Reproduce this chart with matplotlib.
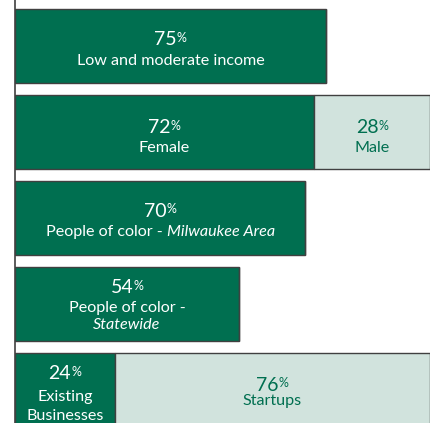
import matplotlib
matplotlib.use("Agg")
import matplotlib.pyplot as plt

# ---- data ----
categories = ["Low and moderate income", "Female", "People of color - Milwaukee Area",
              "People of color - Statewide", "Existing Businesses"]
primary_values = [75, 72, 70, 54, 24]
# label lines; each line is a list of (text, italic?)
primary_lines = [
    [[("Low and moderate income", False)]],
    [[("Female", False)]],
    [[("People of color - ", False), ("Milwaukee Area", True)]],
    [[("People of color -", False)], [("Statewide", True)]],
    [[("Existing", False)], [("Businesses", False)]],
]
secondary_values = [0, 28, 0, 0, 76]
secondary_lines = [None, [[("Male", False)]], None, None, [[("Startups", False)]]]

# ---- style / layout ----
DARK = "#006F50"
LIGHT = "#D1E3DD"
EDGE = "#404040"
FONT = "Lato"
NUM_FS = 14
PCT_FS = 9
LAB_FS = 11.6
# baseline offsets (pixels, downward from bar centre) of each text row
primary_rows = [[-1, 18.5], [1.5, 20], [-1, 18.5], [-10.5, 8.5, 25.5], [-10.5, 11.5, 30]]
secondary_rows = [None, [1.5, 20], None, None, [1, 15]]

fig = plt.figure(figsize=(4.31, 4.23), dpi=100)
ax = fig.add_axes([15 / 431, 0, (430 - 15) / 431, 1])
ax.set_xlim(0, 100)
ax.set_ylim(4.384, -0.535)
for s in ["top", "right", "bottom"]:
    ax.spines[s].set_visible(False)
ax.spines["left"].set_color(EDGE)
ax.spines["left"].set_linewidth(1.2)
ax.set_xticks([])
ax.set_yticks([])

ys = list(range(len(primary_values)))
H = 0.86
ax.barh(ys, primary_values, height=H, color=DARK, edgecolor=EDGE, linewidth=1)
ax.barh(ys, secondary_values, left=primary_values, height=H, color=LIGHT,
        edgecolor=EDGE, linewidth=1)

renderer = fig.canvas.get_renderer()


def seg_width(text, size, italic):
    t = fig.text(0, 0, text, fontsize=size, family=FONT,
                 style="italic" if italic else "normal")
    w = t.get_window_extent(renderer).width
    t.remove()
    return w


def put_row(x, y, dy, segs, color):
    # segs: list of (text, size, italic, raise_px)
    widths = [seg_width(t, s, it) for t, s, it, r in segs]
    start = -sum(widths) / 2
    for (t, s, it, r), w in zip(segs, widths):
        ax.annotate(t, xy=(x, y), xytext=(start, -dy + r), textcoords="offset pixels",
                    ha="left", va="baseline", fontsize=s, family=FONT, color=color,
                    style="italic" if it else "normal", annotation_clip=False)
        start += w


def put_block(x, y, value, lines, rows, color):
    put_row(x, y, rows[0], [(f"{value}", NUM_FS, False, 0),
                            ("%", PCT_FS, False, 3.5)], color)
    for line, dy in zip(lines, rows[1:]):
        put_row(x, y, dy, [(t, LAB_FS, it, 0) for t, it in line], color)


for i, v in enumerate(primary_values):
    put_block(v / 2, i, v, primary_lines[i], primary_rows[i], "white")

for i, v in enumerate(secondary_values):
    if v:
        put_block(primary_values[i] + v / 2, i, v, secondary_lines[i],
                  secondary_rows[i], DARK)

fig.savefig("out.png", dpi=100)
